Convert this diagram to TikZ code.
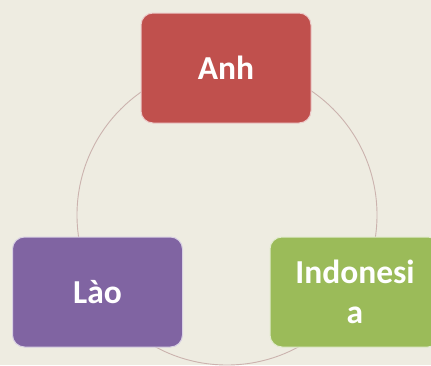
\documentclass[tikz,border=0pt]{standalone}
\usepackage{fontspec}
\setmainfont{Carlito}
\definecolor{bg}{HTML}{EEECE1}
\definecolor{cred}{HTML}{C0504D}
\definecolor{cpurple}{HTML}{8064A2}
\definecolor{cgreen}{HTML}{9BBB59}
\definecolor{ring}{HTML}{CBB3AE}
\tikzset{
  box/.style={rectangle, rounded corners=12pt, minimum width=170pt, minimum height=110pt,
    draw=white!70!#1, line width=1pt, fill=#1, text=white, align=center,
    font=\fontsize{33.5}{40}\selectfont\bfseries, inner sep=0pt},
  ringline/.style={draw=ring, line width=0.9pt}
}
\begin{document}
\begin{tikzpicture}[x=1pt,y=1pt]
\fill[bg] (0,0) rectangle (431,-365);
\useasboundingbox (0,0) rectangle (431,-365);
\node[circle, ringline, minimum size=300pt, inner sep=0pt] (ring) at (227,-215) {};
\node[box=cred] (anh) at (226,-68) {Anh};
\node[box=cpurple] (lao) at (97.5,-292) {Lào};
\node[box=cgreen] (indo) at (355,-292) {Indonesi\\a};
\end{tikzpicture}
\end{document}
